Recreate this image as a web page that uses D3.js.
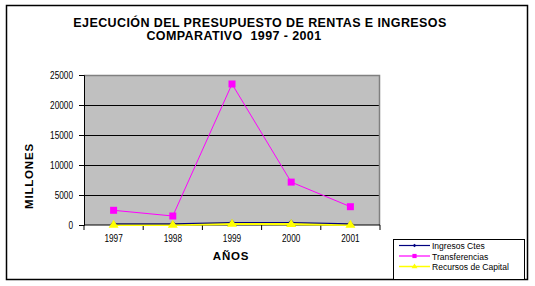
<!DOCTYPE html>
<html>
<head>
<meta charset="utf-8">
<script src="https://cdn.jsdelivr.net/npm/d3@7/dist/d3.min.js"></script>
<style>
  body { margin: 0; background: #fff; }
  svg { display: block; }
  .tick text { font-family: "Liberation Sans", Arial, sans-serif; font-size: 11px; fill: #000; }
</style>
</head>
<body>
<div id="chart"></div>
<script>
const years = ["1997", "1998", "1999", "2000", "2001"];
const ingresosCtes = [180, 200, 420, 420, 180];
const transferencias = [2450, 1500, 23500, 7150, 3050];
const recursosCapital = [60, 40, 200, 180, 40];
const yTicks = [0, 5000, 10000, 15000, 20000, 25000];

const series = [
  { name: "Ingresos Ctes", values: ingresosCtes, color: "#000080", marker: "diamond", width: 1.2 },
  { name: "Transferencias", values: transferencias, color: "#ff00ff", marker: "square", width: 1 },
  { name: "Recursos de Capital", values: recursosCapital, color: "#ffff00", marker: "triangle", width: 2.5 }
];
// lines: yellow under navy, magenta on top; markers: triangles over diamonds
const lineOrder = [2, 0, 1];
const markerOrder = [0, 2, 1];
const narrow = 0.75;

const W = 535, H = 286;
const plot = { left: 84, top: 75, right: 380, bottom: 225 };

const svg = d3.select("#chart").append("svg")
  .attr("width", W)
  .attr("height", H);

// outer frame
svg.append("rect")
  .attr("x", 6.5).attr("y", 5.5)
  .attr("width", 521).attr("height", 274)
  .attr("fill", "#fff")
  .attr("stroke", "#000")
  .attr("stroke-width", 1.5);

// title
svg.append("text")
  .attr("x", 260).attr("y", 27)
  .attr("text-anchor", "middle")
  .style("font-family", "Liberation Sans, Arial, sans-serif")
  .style("font-weight", "bold")
  .style("font-size", "12.5px")
  .style("letter-spacing", "0.4px")
  .text("EJECUCIÓN DEL PRESUPUESTO DE RENTAS E INGRESOS");

svg.append("text")
  .attr("x", 234).attr("y", 40)
  .attr("text-anchor", "middle")
  .style("font-family", "Liberation Sans, Arial, sans-serif")
  .style("font-weight", "bold")
  .style("font-size", "12.5px")
  .style("letter-spacing", "0.4px")
  .style("white-space", "pre")
  .text("COMPARATIVO  1997 - 2001");

const x = d3.scaleBand()
  .domain(years)
  .range([plot.left, plot.right]);

const y = d3.scaleLinear()
  .domain([0, 25000])
  .range([plot.bottom, plot.top]);

// plot background
svg.append("rect")
  .attr("x", plot.left).attr("y", plot.top)
  .attr("width", plot.right - plot.left)
  .attr("height", plot.bottom - plot.top)
  .attr("fill", "#c0c0c0");

// grid
svg.append("g")
  .attr("transform", `translate(${plot.left},0)`)
  .call(d3.axisLeft(y).tickValues(yTicks.slice(1, -1)).tickSize(-(plot.right - plot.left)).tickFormat(""))
  .call(g => g.select(".domain").remove())
  .call(g => g.selectAll("line").attr("stroke", "#000"));

// plot border top/right
svg.append("path")
  .attr("d", `M${plot.left},${plot.top + 0.5}H${plot.right - 0.5}V${plot.bottom}`)
  .attr("fill", "none")
  .attr("stroke", "#808080")
  .attr("stroke-width", 1.5);

// y axis
svg.append("g")
  .attr("transform", `translate(${plot.left},0)`)
  .call(d3.axisLeft(y).tickValues(yTicks).tickSize(5).tickPadding(6).tickFormat(d3.format("d")))
  .call(g => g.selectAll("line, .domain").attr("stroke", "#000"))
  .call(g => g.selectAll("text")
    .attr("x", -11 / narrow)
    .attr("transform", `scale(${narrow},1)`));

// x axis: ticks at category boundaries
const bounds = years.map(d => x(d)).concat([plot.right]);
const xAxis = svg.append("g")
  .attr("transform", `translate(0,${plot.bottom})`);
xAxis.append("line")
  .attr("x1", plot.left).attr("x2", plot.right)
  .attr("stroke", "#000");
xAxis.selectAll(".bt").data(bounds).join("line")
  .attr("class", "bt")
  .attr("x1", d => d).attr("x2", d => d)
  .attr("y1", 0).attr("y2", 5)
  .attr("stroke", "#000");
xAxis.selectAll(".lbl").data(years).join("text")
  .attr("class", "lbl")
  .attr("transform", d => `translate(${x(d) + x.bandwidth() / 2},17) scale(${narrow},1)`)
  .attr("text-anchor", "middle")
  .style("font-family", "Liberation Sans, Arial, sans-serif")
  .style("font-size", "11px")
  .text(d => d);

// axis titles
svg.append("text")
  .attr("transform", "translate(33,176) rotate(-90)")
  .attr("text-anchor", "middle")
  .style("font-family", "Liberation Sans, Arial, sans-serif")
  .style("font-weight", "bold")
  .style("font-size", "11.5px")
  .style("letter-spacing", "0.8px")
  .text("MILLONES");

svg.append("text")
  .attr("x", 231).attr("y", 260)
  .attr("text-anchor", "middle")
  .style("font-family", "Liberation Sans, Arial, sans-serif")
  .style("font-weight", "bold")
  .style("font-size", "11.5px")
  .style("letter-spacing", "0.8px")
  .text("AÑOS");

function markerPath(type, cx, cy, k = 1) {
  if (type === "square") return `M${cx - 3.5 * k},${cy - 3.5 * k}h${7 * k}v${7 * k}h${-7 * k}z`;
  if (type === "diamond") return `M${cx},${cy - 3 * k}l${3 * k},${3 * k}l${-3 * k},${3 * k}l${-3 * k},${-3 * k}z`;
  return `M${cx},${cy - 5 * k}l${5 * k},${8 * k}h${-10 * k}z`;
}

const line = d3.line()
  .x((d, i) => x(years[i]) + x.bandwidth() / 2)
  .y(d => y(d));

lineOrder.forEach(si => {
  const s = series[si];
  svg.append("path")
    .datum(s.values)
    .attr("fill", "none")
    .attr("stroke", s.color)
    .attr("stroke-width", s.width)
    .attr("d", line);
});
markerOrder.forEach(si => {
  const s = series[si];
  svg.append("g").selectAll("path").data(s.values).join("path")
    .attr("d", (d, i) => markerPath(s.marker, x(years[i]) + x.bandwidth() / 2, y(d)))
    .attr("fill", s.color);
});

// legend
const leg = svg.append("g").attr("transform", "translate(393,239)");
leg.append("rect")
  .attr("x", 0.5).attr("y", 0.5)
  .attr("width", 131).attr("height", 40)
  .attr("fill", "#fff")
  .attr("stroke", "#000");
series.forEach((s, i) => {
  const ly = 6.5 + i * 10.5;
  leg.append("line")
    .attr("x1", 6).attr("x2", 37)
    .attr("y1", ly).attr("y2", ly)
    .attr("stroke", s.color)
    .attr("stroke-width", s.marker === "triangle" ? 1.5 : 1.2);
  leg.append("path")
    .attr("d", markerPath(s.marker, 21.5, ly, 0.6))
    .attr("fill", s.color);
  leg.append("text")
    .attr("transform", `translate(39,${ly + 3.5}) scale(0.95,1)`)
    .style("font-family", "Liberation Sans, Arial, sans-serif")
    .style("font-size", "9px")
    .text(s.name);
});
</script>
</body>
</html>
